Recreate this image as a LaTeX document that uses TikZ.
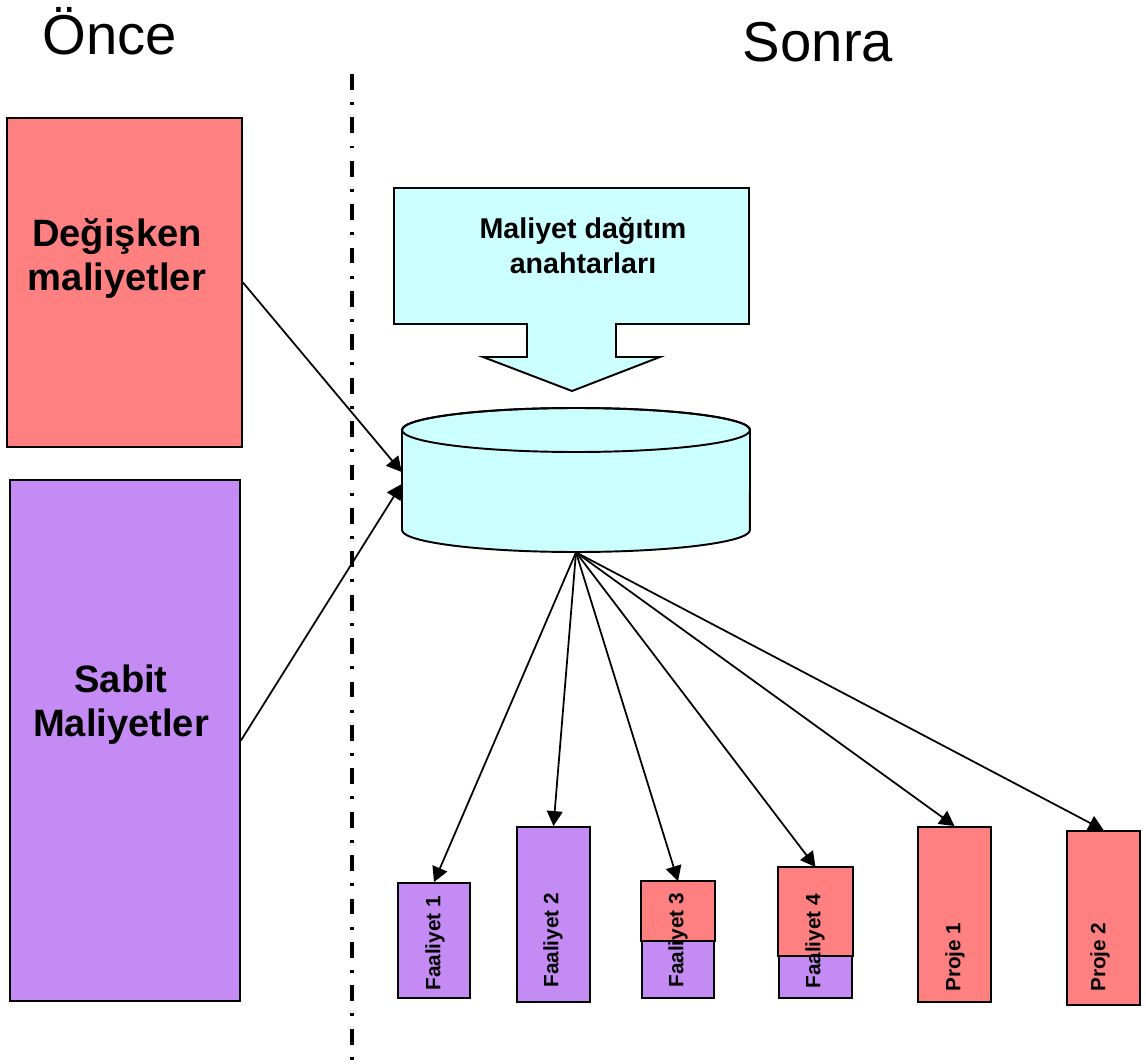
\documentclass[tikz,border=0pt]{standalone}
\usepackage{fontspec}
\setmainfont{Liberation Sans}
\usetikzlibrary{arrows.meta}
\definecolor{salmon}{RGB}{255,128,128}
\definecolor{lilac}{RGB}{197,139,245}
\definecolor{paleCyan}{RGB}{204,255,255}
\begin{document}
\begin{tikzpicture}[x=0.02cm,y=-0.02cm,
  frame/.style={draw=black, line width=1.1pt, inner sep=0pt},
  costtext/.style={align=center, inner sep=0pt, font=\bfseries\fontsize{21.7}{25}\selectfont},
  keytext/.style={align=center, inner sep=0pt, font=\bfseries\fontsize{16.3}{20}\selectfont},
  lab/.style={rotate=90, anchor=west, inner sep=0pt, font=\bfseries\fontsize{11.8}{14}\selectfont},
  conn/.style={line width=1pt, -{Triangle[length=8.5pt,width=9pt]}},
  title/.style={anchor=base, inner sep=0pt, font=\fontsize{32}{38}\selectfont}]
\useasboundingbox (0,0) rectangle (1146,1064);

% titles
\node[title] (once) at (110,55) {Önce};
\node[title] (sonra) at (818,62) {Sonra};

% separator
\draw[line width=1.9pt, dash pattern=on 9pt off 7pt on 1.7pt off 7pt] (352,74) -- (352,1060);

% left boxes
\node[frame, fill=salmon, minimum width=4.7cm, minimum height=6.58cm] (var) at (124.5,282.5) {};
\node[costtext] (vart) at (117,258) {Değişken\\maliyetler};
\node[frame, fill=lilac, minimum width=4.6cm, minimum height=10.42cm] (fix) at (125,740.5) {};
\node[costtext] (fixt) at (121,705) {Sabit\\Maliyetler};

% callout
\filldraw[fill=paleCyan, line width=1.1pt] (394,188) -- (749,188) -- (749,324) -- (616,324) -- (616,357) -- (660,357) -- (572,391) -- (483,357) -- (527,357) -- (527,324) -- (394,324) -- cycle;
\node[keytext] (keys) at (583,246) {Maliyet dağıtım\\anahtarları};

% cylinder
\node[inner sep=0pt, minimum width=6.96cm, minimum height=2.88cm] (pool) at (576,480) {};
\filldraw[fill=paleCyan, line width=1.1pt] (402,430) -- (402,530) arc[start angle=180, end angle=360, x radius=3.48cm, y radius=0.44cm] -- (750,430) arc[start angle=0, end angle=180, x radius=3.48cm, y radius=0.44cm] -- cycle;
\draw[line width=1.1pt] (576,430) ellipse [x radius=3.48cm, y radius=0.44cm];

% bottom bars
\node[frame, fill=lilac, minimum width=1.44cm, minimum height=2.3cm] (f1) at (434,940.5) {};
\node[frame, fill=lilac, minimum width=1.46cm, minimum height=3.5cm] (f2) at (553.5,914.5) {};
\node[frame, fill=lilac, minimum width=1.44cm, minimum height=2.32cm] (f3) at (678,940) {};
\draw[fill=salmon, line width=1.1pt] (f3.north west) rectangle (f3.east |- 0,941);
\node[frame, fill=lilac, minimum width=1.46cm, minimum height=2.6cm] (f4) at (815.5,933) {};
\draw[fill=salmon, line width=1.1pt] (f4.north west) rectangle (f4.east |- 0,956);
\node[frame, fill=salmon, minimum width=1.46cm, minimum height=3.5cm] (p1) at (954.5,914.5) {};
\node[frame, fill=salmon, minimum width=1.46cm, minimum height=3.48cm] (p2) at (1103.5,918) {};

\node[lab] (f1l) at (435,991) {Faaliyet 1};
\node[lab] (f2l) at (553,988) {Faaliyet 2};
\node[lab] (f3l) at (678,988) {Faaliyet 3};
\node[lab] (f4l) at (815,989) {Faaliyet 4};
\node[lab] (p1l) at (955,992) {Proje 1};
\node[lab] (p2l) at (1100,992) {Proje 2};

% connectors
\draw[conn] (var.east) -- ([yshift=0.16cm]pool.west);
\draw[conn] (fix.east) -- ([yshift=-0.08cm]pool.west);
\draw[conn] (pool.south) -- (f1.north);
\draw[conn] (pool.south) -- (f2.north);
\draw[conn] (pool.south) -- (f3.north);
\draw[conn] (pool.south) -- (f4.north);
\draw[conn] (pool.south) -- (p1.north);
\draw[conn] (pool.south) -- (p2.north);
\end{tikzpicture}
\end{document}
